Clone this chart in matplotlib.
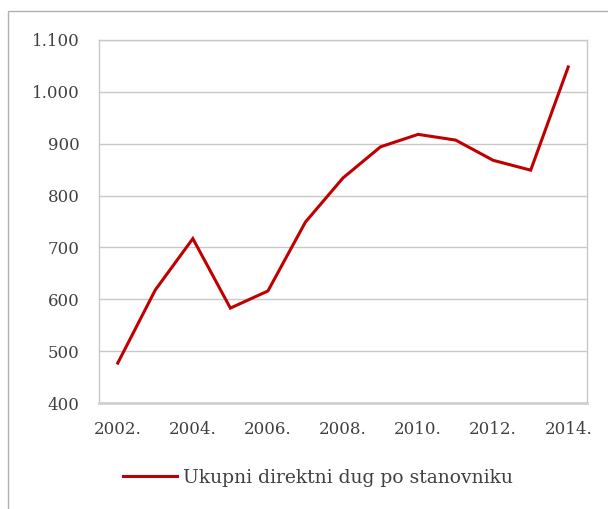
import matplotlib.pyplot as plt
from matplotlib.patches import Rectangle
from matplotlib.ticker import FuncFormatter

plt.rcParams['font.family'] = ['DejaVu Serif']

years = [2002, 2003, 2004, 2005, 2006, 2007, 2008, 2009, 2010, 2011, 2012, 2013, 2014]
debt = [477, 618, 717, 583, 616, 749, 834, 894, 918, 907, 868, 849, 1048]
tick_years = [2002, 2004, 2006, 2008, 2010, 2012, 2014]
series_name = "Ukupni direktni dug po stanovniku"

fig = plt.figure(figsize=(6.08, 5.09), dpi=100)
# outer chart frame (cropped on right/bottom)
fig.patches.append(Rectangle((8 / 608, -0.05), 1.2, (509 - 11) / 509 + 0.05,
                             transform=fig.transFigure, fill=False,
                             edgecolor="#b0b0b0", linewidth=1.0))

ax = fig.add_axes([99 / 608, (509 - 403) / 509, 488 / 608, 363 / 509])
idx = list(range(len(years)))
ax.plot(idx, debt, color="#c00000", linewidth=2.2, solid_joinstyle="miter")

ax.set_xlim(-0.5, len(years) - 0.5)
ax.set_ylim(400, 1100)
ax.set_yticks(range(400, 1101, 100))
ax.yaxis.set_major_formatter(FuncFormatter(lambda v, p: f"{int(v):,}".replace(",", ".")))
ax.set_xticks([years.index(y) for y in tick_years])
ax.set_xticklabels([f"{y}." for y in tick_years])

ax.grid(axis="y", color="#c8c8c8", linewidth=1.0)
ax.set_axisbelow(True)
for s in ["top", "right", "left"]:
    ax.spines[s].set_color("#c8c8c8")
    ax.spines[s].set_linewidth(1.0)
ax.spines["bottom"].set_color("#d0d0d0")
ax.spines["bottom"].set_linewidth(2.0)
ax.tick_params(length=0, labelsize=12, colors="#404040")
ax.tick_params(axis="y", pad=14)
ax.tick_params(axis="x", pad=13)

leg = fig.legend([series_name], loc="center", bbox_to_anchor=(318 / 608, 1 - 478 / 509),
                 frameon=False, fontsize=13.5, handlelength=2.9, handletextpad=0.3)
for t in leg.get_texts():
    t.set_color("#404040")

fig.savefig("out.png", dpi=100)
